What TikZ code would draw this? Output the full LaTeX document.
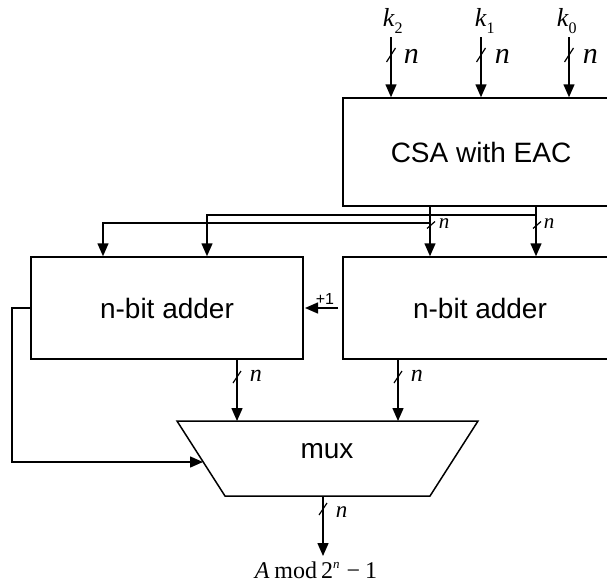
\documentclass[tikz,border=0pt]{standalone}
\usepackage{fontspec}
\setmainfont{Liberation Serif}
\setsansfont{Liberation Sans}
\usetikzlibrary{arrows.meta}
\begin{document}
\begin{tikzpicture}[x=1pt,y=-1pt,line width=1.5pt,
  wire/.style={-{Triangle[length=13pt,width=11pt]}},
  blk/.style={draw,rectangle,inner sep=0pt,font=\sffamily\fontsize{28}{32}\selectfont},
  nlab/.style={anchor=base west,inner sep=0pt,font=\itshape\fontsize{#1}{#1}\selectfont},
  klab/.style={anchor=base west,inner sep=0pt,font=\fontsize{26}{26}\selectfont},
  pics/busslash/.style={code={\draw[line width=1.2pt] (-4,6) -- (4,-6);}},
  pics/bigslash/.style={code={\draw[line width=1.2pt] (-4.5,7) -- (4.5,-7);}},
  pics/flatslash/.style={code={\draw[line width=1.2pt] (-4,3.5) -- (4,-3.5);}}]
\clip (0,0) rectangle (607,587);
\fill[white] (0,0) rectangle (607,587);

% blocks
\node[blk,minimum width=276pt,minimum height=108pt] (csa) at (481,152) {CSA with EAC};
\node[blk,minimum width=272pt,minimum height=102pt] (ladd) at (167,308) {n-bit adder};
\node[blk,minimum width=274pt,minimum height=102pt] (radd) at (480,308) {n-bit adder};

% mux trapezoid
\coordinate (mtl) at (177,421);
\coordinate (mtr) at (478,421);
\coordinate (mbr) at (430,496);
\coordinate (mbl) at (225,496);
\draw (mtl) -- (mtr) -- (mbr) -- (mbl) -- cycle;
\node[font=\sffamily\fontsize{28}{32}\selectfont,inner sep=0pt] (mux) at (327,451) {mux};

% top inputs
\node[klab] (k2) at (382,26) {\textit{k}\raisebox{-7pt}{\fontsize{16}{16}\selectfont 2}};
\node[klab] (k1) at (474,26) {\textit{k}\raisebox{-7pt}{\fontsize{16}{16}\selectfont 1}};
\node[klab] (k0) at (556,26) {\textit{k}\raisebox{-7pt}{\fontsize{16}{16}\selectfont 0}};
\coordinate (i2) at (391,37);
\coordinate (i1) at (481,37);
\coordinate (i0) at (569,37);
\draw[wire] (i2) -- (i2 |- csa.north);
\draw[wire] (i1) -- (i1 |- csa.north);
\draw[wire] (i0) -- (i0 |- csa.north);
\pic at (391,55) {bigslash};
\pic at (481,55) {bigslash};
\pic at (569,55) {bigslash};
\node[nlab=30] (n2) at (403,63) {n};
\node[nlab=30] (n1) at (494,63) {n};
\node[nlab=30] (n0) at (582,63) {n};

% CSA outputs
\coordinate (oa) at (430,206);
\coordinate (ob) at (536,206);
\draw[wire] (oa) -- (oa |- radd.north);
\draw[wire] (ob) -- (ob |- radd.north);
\coordinate (ja) at (430,223);
\coordinate (jb) at (536,215);
\coordinate (la) at (103,223);
\coordinate (lb) at (207,215);
\draw[wire] (ja) -- (la) -- (la |- ladd.north);
\draw[wire] (jb) -- (lb) -- (lb |- ladd.north);
\pic at (431,225) {flatslash};
\pic at (537,225) {flatslash};
\node[nlab=21] (na) at (438,228) {n};
\node[nlab=21] (nb) at (543,228) {n};

% +1 carry
\coordinate (cs) at (338,308);
\coordinate (ce) at (305,308);
\draw[wire] (cs) -- (ce);
\node[font=\sffamily\fontsize{16}{16}\selectfont,inner sep=0pt] (p1) at (325,299) {+1};

% adder outputs
\coordinate (lo) at (237,359);
\coordinate (ro) at (398,359);
\draw[wire] (lo) -- (lo |- mtl);
\draw[wire] (ro) -- (ro |- mtl);
\pic at (237,377) {busslash};
\pic at (398,377) {busslash};
\node[nlab=24] (nl) at (249,381) {n};
\node[nlab=24] (nr) at (410,381) {n};

% select line
\coordinate (s1) at (12,308);
\coordinate (s2) at (12,462);
\coordinate (sm) at (203,462);
\draw[wire] (ladd.west) -- (s1) -- (s2) -- (sm);

% mux output
\coordinate (mo) at (323,496);
\coordinate (me) at (323,556);
\draw[wire] (mo) -- (me);
\pic at (323,509) {busslash};
\node[nlab=23] (nm) at (335,517) {n};
\node[anchor=base west,inner sep=0pt,font=\fontsize{24}{24}\selectfont] (res) at (254,578)
  {\textit{A}\hspace{5pt}mod\hspace{4pt}2\raisebox{10pt}{\fontsize{13}{13}\selectfont\textit{n}}\hspace{7pt}−\hspace{5pt}1};
\end{tikzpicture}
\end{document}
